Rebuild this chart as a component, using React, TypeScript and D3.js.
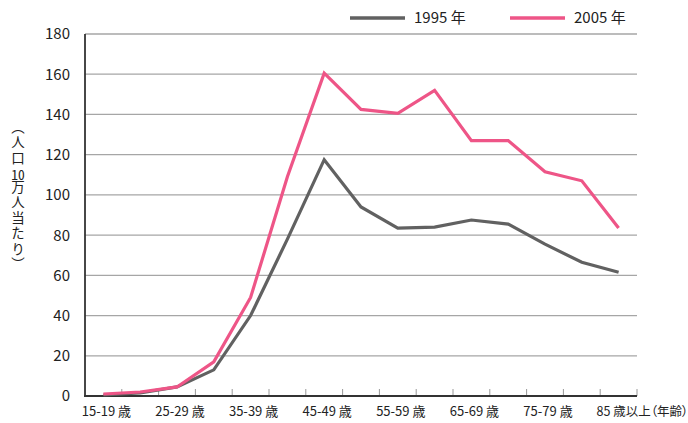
import React from 'react';
import * as d3 from 'd3';

const ageGroups = [
  '15-19', '20-24', '25-29', '30-34', '35-39', '40-44', '45-49', '50-54',
  '55-59', '60-64', '65-69', '70-74', '75-79', '80-84', '85+',
];
const rate1995 = [0.5, 1.5, 4.5, 13, 40, 78, 117.5, 94, 83.5, 84, 87.5, 85.5, 75.5, 66.5, 61.5];
const rate2005 = [1, 2, 4.5, 17, 49, 109, 160.5, 142.5, 140.5, 152, 127, 127, 111.5, 107, 83.5];
const xTickLabels = ['15-19 歳', '', '25-29 歳', '', '35-39 歳', '', '45-49 歳', '', '55-59 歳', '', '65-69 歳', '', '75-79 歳', '', '85 歳以上（年齢）'];
const yTicks = [0, 20, 40, 60, 80, 100, 120, 140, 160, 180];
const yTitleParts = ['（人口', '10', '万人当たり）'];

const W = 688;
const H = 423;
const margin = { top: 34, right: 51, bottom: 27, left: 85 };
const font = '"Noto Sans CJK JP", "Noto Sans", sans-serif';

const App = () => {
  const innerW = W - margin.left - margin.right;
  const innerH = H - margin.top - margin.bottom;

  const x = d3.scaleBand<string>().domain(ageGroups).range([0, innerW]);
  const y = d3.scaleLinear().domain([0, 180]).range([innerH, 0]);
  const cx = (i: number) => (x(ageGroups[i]) as number) + x.bandwidth() / 2;
  const last = ageGroups.length - 1;

  const line = d3
    .line<number>()
    .x((_, i) => cx(i))
    .y((d) => y(d));

  const series = [
    { name: '1995 年', values: rate1995, color: '#616161' },
    { name: '2005 年', values: rate2005, color: '#ee5587' },
  ];

  return (
    <svg width={W} height={H} style={{ position: 'absolute', left: 0, top: 0 }}>
      <rect width={W} height={H} fill="#fff" />

      {/* legend */}
      {series.map((s, i) => (
        <g key={s.name} transform={`translate(${350 + i * 160},18)`}>
          <line x1={0} x2={55} y1={0} y2={0} stroke={s.color} strokeWidth={3.5} />
          <text x={64} y={0} dy="0.36em" fontFamily={font} fontSize={15} fill="#222">
            {s.name}
          </text>
        </g>
      ))}

      {/* y title, vertical writing with 10 kept upright */}
      <foreignObject x={8} y={120} width={20} height={180}>
        <div
          style={{
            writingMode: 'vertical-rl',
            fontFamily: font,
            fontSize: '13.5px',
            lineHeight: '20px',
            letterSpacing: '2px',
            color: '#222',
            margin: 0,
            whiteSpace: 'nowrap',
          }}
        >
          {yTitleParts[0]}
          <span style={{ textCombineUpright: 'all', letterSpacing: 0 } as React.CSSProperties}>{yTitleParts[1]}</span>
          {yTitleParts[2]}
        </div>
      </foreignObject>

      <g transform={`translate(${margin.left},${margin.top})`}>
        {/* gridlines */}
        {yTicks.filter((t) => t > 0).map((t) => (
          <line key={t} x1={0} x2={innerW} y1={y(t)} y2={y(t)} stroke="#a6a6a6" strokeWidth={1.3} />
        ))}

        {/* y labels */}
        {yTicks.map((t) => (
          <text
            key={t}
            x={-15}
            y={y(t)}
            dy="0.36em"
            textAnchor="end"
            fontFamily={font}
            fontSize={15}
            fill="#222"
          >
            {t}
          </text>
        ))}

        {/* x ticks */}
        {ageGroups.map((g) => {
          const xp = (x(g) as number) + x.bandwidth();
          return <line key={g} x1={xp} x2={xp} y1={innerH} y2={innerH - 7} stroke="#999" strokeWidth={1} />;
        })}

        {/* axes */}
        <line x1={0} x2={0} y1={0} y2={innerH} stroke="#333" strokeWidth={1.8} />
        <line x1={-1} x2={innerW} y1={innerH} y2={innerH} stroke="#333" strokeWidth={2.2} />

        {/* x labels */}
        {xTickLabels.map((l, i) =>
          l ? (
            <text
              key={i}
              x={i === last ? cx(i) - 22 : cx(i) + 3}
              y={innerH + 20}
              textAnchor={i === last ? 'start' : 'middle'}
              fontFamily={font}
              fontSize={i === last ? 12.5 : 13}
              fill="#222"
              style={{ fontFeatureSettings: '"palt"' }}
            >
              {l}
            </text>
          ) : null
        )}

        {/* lines */}
        {series.map((s) => (
          <path
            key={s.name}
            d={line(s.values) as string}
            fill="none"
            stroke={s.color}
            strokeWidth={3.2}
            strokeLinejoin="miter"
          />
        ))}
      </g>
    </svg>
  );
};

export default App;
